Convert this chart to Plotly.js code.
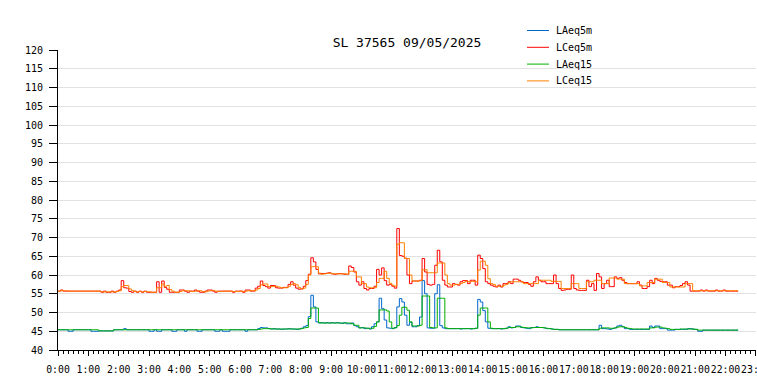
<!DOCTYPE html>
<html>
<head>
<meta charset="utf-8">
<script src="https://cdn.plot.ly/plotly-3.0.1.min.js"></script>
<style>html,body{margin:0;padding:0;background:#fff;overflow:hidden;}#chart{width:757px;height:391px;}</style>
</head>
<body>
<div id="chart"></div>
<script>
// Series names
const seriesNames = ['LAeq5m', 'LCeq5m', 'LAeq15', 'LCeq15'];
const seriesColors = ['#0066cc', '#ff0000', '#00b000', '#ff8000'];
const chartTitle = 'SL 37565 09/05/2025';
const day = '2025-05-09';

// LCeq5m (dB), one value per 5 minutes from 0:00 (rows = hours)
const LCeq5m = [
 55.7,56.0,55.7,55.7,55.7,55.7,55.7,55.7,55.7,55.7,55.7,55.7,
 55.7,55.7,55.7,55.7,55.7,55.4,55.7,55.4,55.4,55.7,55.4,55.7,
 56.0,58.5,56.6,56.5,55.6,55.4,55.7,55.4,55.7,55.4,55.7,55.4,
 55.4,55.4,55.4,58.2,55.4,58.4,56.7,56.2,55.4,55.4,55.4,55.4,
 56.0,56.0,55.7,55.4,55.7,55.7,56.0,55.7,55.4,55.4,55.7,56.0,
 56.0,55.7,55.4,55.7,55.7,55.7,55.7,55.7,55.7,55.4,55.7,55.7,
 55.7,55.4,56.0,56.0,55.7,55.7,56.5,57.0,58.4,57.2,56.9,56.5,
 57.2,57.2,56.6,56.5,56.5,56.7,56.7,57.5,58.2,57.3,56.5,56.2,
 56.3,57.0,58.5,60.2,64.6,63.5,61.5,60.3,60.4,60.4,60.5,60.6,
 60.3,60.2,60.3,60.4,60.3,60.2,60.2,62.4,62.0,60.8,58.2,57.3,
 58.2,56.4,56.0,56.4,56.4,57.0,61.5,60.0,61.9,58.5,57.3,57.5,
 57.0,56.5,72.4,65.2,65.0,64.5,60.0,57.7,58.4,58.4,58.4,58.6,
 64.4,60.8,57.5,57.3,57.5,62.6,66.6,63.5,58.6,57.3,56.8,56.8,
 57.7,57.5,57.3,58.2,58.5,58.5,57.7,58.6,58.6,57.3,65.3,64.4,
 61.7,58.2,57.7,57.3,57.0,56.8,57.3,56.8,57.7,57.7,58.2,57.7,
 58.9,58.9,58.6,58.2,58.0,58.0,57.5,57.0,58.2,59.5,58.6,58.2,
 58.2,57.7,57.7,57.7,60.0,57.7,56.4,55.9,56.0,56.2,56.2,60.0,
 56.4,56.0,55.9,55.9,55.9,58.6,56.9,57.7,55.9,60.4,59.5,56.4,
 57.7,58.6,56.9,56.9,59.5,59.1,59.3,58.6,58.0,57.7,57.7,57.7,
 57.7,58.2,57.3,56.4,56.4,56.9,58.6,57.7,59.1,58.6,58.3,58.2,
 58.2,57.3,57.3,56.6,56.9,56.9,57.2,57.7,58.2,57.3,55.7,55.7,
 55.7,55.7,56.0,55.7,56.0,55.7,55.7,55.7,56.0,55.7,55.7,56.0,
 55.7,55.7,55.7,55.7,55.7,55.7
];

// LCeq15 (dB), rolling 15-minute value, read every 5 minutes
const LCeq15 = [
 55.7,55.8,55.8,55.8,55.7,55.7,55.7,55.7,55.7,55.7,55.7,55.7,
 55.7,55.7,55.7,55.7,55.7,55.5,55.5,55.5,55.5,55.5,55.5,55.6,
 55.8,56.9,57.2,57.2,56.3,55.9,55.6,55.5,55.6,55.5,55.6,55.5,
 55.5,55.4,55.4,56.6,56.6,57.6,57.0,57.2,56.1,55.7,55.4,55.4,
 55.6,55.8,55.8,55.8,55.7,55.6,55.7,55.8,55.8,55.6,55.5,55.7,
 55.8,55.9,55.7,55.6,55.6,55.7,55.7,55.7,55.7,55.6,55.6,55.6,
 55.7,55.6,55.7,55.8,55.9,55.8,56.0,56.4,57.4,57.6,57.6,56.9,
 56.9,57.0,57.0,56.8,56.6,56.6,56.6,57.0,57.5,57.7,57.4,56.7,
 56.3,56.5,57.5,60.0,62.2,62.3,62.2,60.5,60.2,60.3,60.4,60.5,
 60.4,60.3,60.3,60.3,60.3,60.3,60.2,61.0,61.0,61.0,59.5,59.5,
 57.7,57.7,56.8,56.6,56.6,56.6,58.0,59.1,59.1,61.0,59.1,57.8,
 57.3,57.0,68.2,68.6,68.6,64.4,64.4,60.0,58.4,58.4,58.4,58.5,
 61.4,61.4,60.6,60.6,60.6,60.6,63.2,63.2,63.2,60.0,57.7,57.3,
 57.3,57.5,57.5,57.7,58.0,58.3,58.2,58.3,58.3,58.2,61.3,63.7,
 63.7,62.6,59.0,57.7,57.5,57.0,57.0,57.0,57.3,57.5,57.9,58.2,
 58.2,58.2,58.2,58.2,57.7,57.7,57.7,57.7,57.7,57.7,58.6,58.6,
 58.6,58.6,58.6,58.3,58.3,58.3,58.3,56.4,56.4,56.4,56.4,57.7,
 57.7,57.7,56.4,56.4,56.4,58.2,58.2,58.2,58.6,58.6,58.6,57.7,
 57.7,57.7,59.2,59.2,59.2,58.9,58.9,58.9,57.7,57.7,57.7,57.7,
 57.7,57.7,57.1,57.1,57.1,58.0,58.0,58.0,58.9,58.9,58.9,58.0,
 58.0,58.0,56.8,56.8,56.8,56.8,56.8,56.8,57.7,57.7,57.7,55.8,
 55.8,55.8,55.8,55.8,55.8,55.8,55.8,55.8,55.8,55.8,55.8,55.8,
 55.8,55.8,55.8,55.8,55.8,55.8
];

// LAeq5m (dB)
const LAeq5m = [
 45.4,45.4,45.4,45.4,45.0,45.0,45.4,45.4,45.4,45.4,45.4,45.4,
 45.4,45.0,45.0,45.0,45.1,45.1,45.1,45.1,45.1,45.1,45.4,45.4,
 45.4,45.4,45.7,45.4,45.4,45.4,45.4,45.4,45.4,45.4,45.4,45.4,
 45.0,45.0,45.4,45.0,45.0,45.4,45.4,45.4,45.4,45.0,45.0,45.4,
 45.4,45.4,45.0,45.4,45.4,45.4,45.4,45.0,45.0,45.4,45.4,45.4,
 45.4,45.4,45.0,45.0,45.4,45.0,45.0,45.0,45.4,45.4,45.4,45.4,
 45.4,45.4,45.0,45.4,45.4,45.4,45.4,45.7,46.0,45.9,45.9,45.7,
 45.6,45.7,45.6,45.6,45.5,45.6,45.6,45.7,45.6,45.6,45.5,45.6,
 45.8,46.2,46.5,48.9,54.6,51.5,47.5,47.2,47.3,47.2,47.3,47.2,
 47.3,47.2,47.3,47.2,47.1,47.3,47.0,47.0,47.2,46.5,46.2,45.9,
 46.0,45.7,45.8,45.6,46.2,47.0,47.5,53.8,51.0,48.0,45.9,45.8,
 45.7,46.0,51.5,53.7,52.8,49.3,46.6,47.4,46.2,46.2,46.5,48.8,
 58.5,55.0,45.9,45.8,45.8,55.0,57.4,46.5,45.9,45.7,45.7,45.7,
 45.7,45.7,45.7,45.6,45.7,45.7,45.7,45.6,45.7,45.8,53.5,52.8,
 50.5,47.5,45.8,45.7,45.7,45.7,45.7,45.6,45.7,45.8,46.2,45.9,
 46.0,46.4,46.4,46.0,45.9,45.8,45.7,46.0,46.0,46.2,46.0,46.0,
 45.9,45.7,45.7,45.6,45.5,45.5,45.4,45.4,45.4,45.4,45.4,45.4,
 45.4,45.4,45.4,45.4,45.4,45.4,45.4,45.4,45.4,45.4,46.6,45.7,
 45.7,45.6,45.5,45.7,45.9,46.4,46.6,46.2,45.7,45.7,45.5,45.5,
 45.5,45.5,45.5,45.5,45.5,45.5,46.4,46.0,46.4,46.4,45.7,45.7,
 45.7,45.3,45.3,45.3,45.5,45.5,45.5,45.5,45.5,45.7,45.7,45.5,
 45.5,45.0,45.0,45.3,45.3,45.3,45.3,45.3,45.3,45.3,45.3,45.3,
 45.3,45.3,45.3,45.3,45.3,45.3
];

// LAeq15 (dB), rolling 15-minute value, read every 5 minutes
const LAeq15 = [
 45.4,45.4,45.4,45.4,45.4,45.4,45.4,45.4,45.4,45.4,45.4,45.4,
 45.4,45.4,45.4,45.4,45.1,45.1,45.1,45.1,45.1,45.1,45.4,45.4,
 45.4,45.4,45.4,45.4,45.4,45.4,45.4,45.4,45.4,45.4,45.4,45.4,
 45.4,45.4,45.4,45.4,45.4,45.4,45.4,45.4,45.4,45.4,45.4,45.4,
 45.4,45.4,45.4,45.4,45.4,45.4,45.4,45.4,45.4,45.4,45.4,45.4,
 45.4,45.4,45.4,45.4,45.4,45.4,45.4,45.4,45.4,45.4,45.4,45.4,
 45.4,45.4,45.4,45.4,45.4,45.4,45.4,45.5,45.6,45.7,45.7,45.7,
 45.6,45.6,45.6,45.6,45.6,45.6,45.6,45.6,45.6,45.6,45.6,45.6,
 45.7,45.9,46.0,48.4,51.2,51.2,51.2,47.3,47.2,47.2,47.2,47.2,
 47.2,47.2,47.2,47.2,47.2,47.2,47.2,47.2,47.0,46.6,46.6,45.9,
 45.9,45.9,45.8,45.8,45.8,46.3,47.5,50.7,50.7,50.7,50.4,47.5,
 45.8,45.9,46.5,49.3,51.4,51.4,50.6,47.5,46.4,46.4,46.4,46.6,
 54.4,54.4,54.4,46.0,45.9,45.9,53.8,53.8,53.8,45.9,45.7,45.7,
 45.7,45.7,45.7,45.7,45.7,45.7,45.7,45.7,45.7,45.8,49.3,51.2,
 51.2,51.2,47.5,45.8,45.7,45.7,45.7,45.7,45.7,45.8,46.0,46.0,
 46.0,46.2,46.2,46.1,46.0,45.9,45.9,45.9,46.0,46.0,46.0,46.0,
 45.9,45.8,45.7,45.6,45.5,45.5,45.4,45.4,45.4,45.4,45.4,45.4,
 45.4,45.4,45.4,45.4,45.4,45.4,45.4,45.4,45.4,45.4,45.8,45.9,
 45.9,45.9,45.8,45.8,45.9,46.1,46.2,46.2,46.0,45.8,45.7,45.6,
 45.6,45.6,45.6,45.6,45.6,45.6,45.9,45.9,46.1,46.1,46.1,45.9,
 45.8,45.7,45.5,45.5,45.5,45.5,45.6,45.6,45.6,45.6,45.6,45.6,
 45.5,45.3,45.3,45.3,45.3,45.3,45.3,45.3,45.3,45.3,45.3,45.3,
 45.3,45.3,45.3,45.3,45.3,45.3
];

// sample times, every 5 minutes from 0:00
function pad(n){ return (n < 10 ? '0' : '') + n; }
const times = LCeq5m.map(function(_, i){
  const m = i * 5;
  return day + ' ' + pad(Math.floor(m / 60)) + ':' + pad(m % 60);
});

const seriesValues = [LAeq5m, LCeq5m, LAeq15, LCeq15];
const traces = seriesValues.map(function(vals, k){
  return {
    type: 'scatter', mode: 'lines', name: seriesNames[k],
    x: times, y: vals,
    line: {color: seriesColors[k], width: 1, shape: 'hv'},
    hoverinfo: 'skip', showlegend: false
  };
});

const mono = 'DejaVu Sans Mono, monospace';

// legend drawn as line samples + text labels (plot area: x 58..756 px, y 50..350 px)
const M = {l: 58, r: 1, t: 50, b: 41};
const plotW = 757 - M.l - M.r, plotH = 391 - M.t - M.b;
function px2x(px){ return (px - M.l) / plotW; }
function py2y(py){ return (391 - M.b - py) / plotH; }
const legendShapes = [], legendAnn = [];
seriesNames.forEach(function(name, k){
  const yy = py2y(30.5 + k * 16.8);
  legendShapes.push({type: 'line', xref: 'paper', yref: 'paper', x0: px2x(527), x1: px2x(549), y0: yy, y1: yy,
                     line: {color: seriesColors[k], width: 1}});
  legendAnn.push({xref: 'paper', yref: 'paper', x: px2x(554), y: yy, xanchor: 'left', yanchor: 'middle',
                  text: name, showarrow: false, font: {family: mono, size: 10, color: '#000'}});
});

const layout = {
  width: 757, height: 391,
  margin: {l: M.l, r: M.r, t: M.t, b: M.b, pad: 0, autoexpand: false},
  paper_bgcolor: '#ffffff', plot_bgcolor: '#ffffff',
  title: {text: chartTitle, font: {family: mono, size: 13, color: '#000'},
          x: 0.5, xref: 'paper', xanchor: 'center', y: 1 - 42.5/391, yref: 'container', yanchor: 'middle'},
  showlegend: false,
  shapes: legendShapes,
  annotations: legendAnn,
  xaxis: {
    type: 'date', range: [day + ' 00:00', day + ' 23:00:20'],
    tick0: day + ' 00:00', dtick: 3600000, tickformat: '%-H:%M', tickangle: 0,
    ticks: 'outside', ticklen: 5, tickwidth: 1, tickcolor: '#000',
    showline: true, linecolor: '#000', linewidth: 1, mirror: false,
    showgrid: false, zeroline: false, ticklabeloverflow: 'allow',
    tickfont: {family: mono, size: 9.8, color: '#000'}, ticklabelstandoff: 5,
    minor: {dtick: 600000, ticks: 'outside', ticklen: 3, tickwidth: 1, tickcolor: '#000', showgrid: false}
  },
  yaxis: {
    range: [40, 120], tick0: 40, dtick: 5,
    ticks: 'outside', ticklen: 8, tickwidth: 1, tickcolor: '#000',
    showline: true, linecolor: '#000', linewidth: 1,
    showgrid: true, gridcolor: '#e2e2e2', gridwidth: 1, zeroline: false,
    tickfont: {family: mono, size: 10, color: '#000'}, ticklabelstandoff: 4
  }
};

Plotly.newPlot('chart', traces, layout, {staticPlot: true, displayModeBar: false});
</script>
</body>
</html>
